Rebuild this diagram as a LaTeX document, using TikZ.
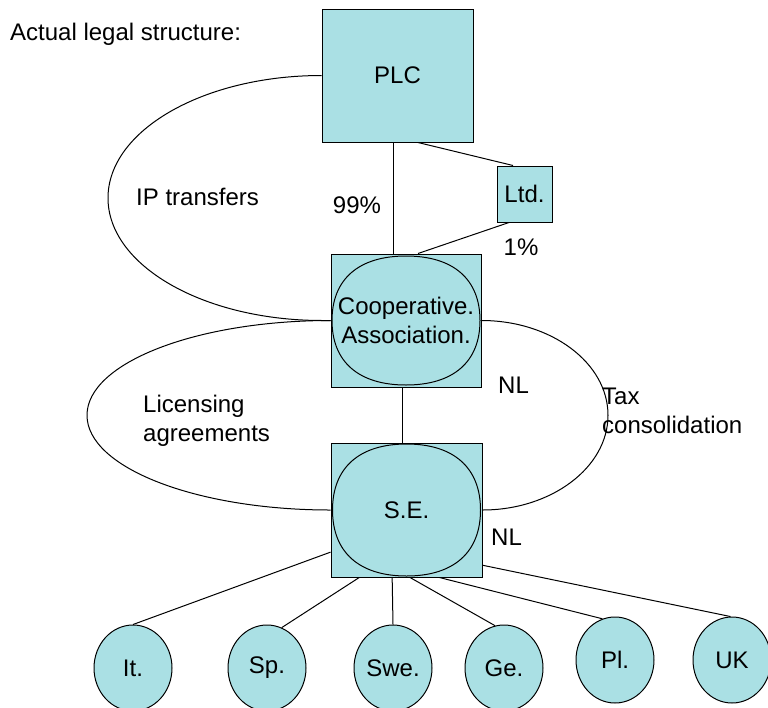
\documentclass[tikz,border=0pt]{standalone}
\usepackage{fontspec}
\setmainfont{Liberation Sans}
\usetikzlibrary{shapes.geometric,calc}
\definecolor{cellfill}{RGB}{170,224,228}
\begin{document}
\begin{tikzpicture}[x=1pt,y=-1pt,
  every node/.style={font=\fontsize{24}{29}\selectfont},
  entity/.style={draw, fill=cellfill, line width=1pt, inner sep=0pt},
  branch/.style={ellipse, draw, fill=cellfill, line width=1pt, inner sep=0pt,
                 minimum width=78pt, minimum height=86pt},
  link/.style={line width=1pt},
  txt/.style={inner sep=0pt}]
\useasboundingbox (0,0) rectangle (768,707);

% heading
\node[txt, anchor=base west] (title) at (10,40) {Actual legal structure:};

% entities
\node[entity, minimum width=151pt, minimum height=133pt] (plc) at (397.5,75.5) {PLC};
\node[entity, minimum width=55pt, minimum height=56pt] (ltd) at (524.5,194) {Ltd.};
\node[entity, minimum width=150pt, minimum height=133pt] (coop) at (406,320.5) {};
\node[entity, minimum width=151pt, minimum height=134pt] (se) at (406.5,510) {};

% national subsidiaries
\node[branch] (it)  at (133,668) {It.};
\node[branch] (sp)  at (267,668) {Sp.};
\node[branch] (swe) at (393,668) {Swe.};
\node[branch] (ge)  at (504,668) {Ge.};
\node[branch] (pl)  at (615,660) {Pl.};
\node[branch] (uk)  at (732,660) {UK};

% rounded outlines inside the Dutch entities
\draw[link] (480,320.5) .. controls (480,361.8) and (453.4,385) .. (406,385)
            .. controls (358.6,385) and (332,361.8) .. (332,320.5)
            .. controls (332,279.2) and (358.6,256) .. (406,256)
            .. controls (453.4,256) and (480,279.2) .. cycle;
\draw[link] (480.5,510) .. controls (480.5,552.2) and (453.9,576) .. (406.5,576)
            .. controls (359.1,576) and (332.5,552.2) .. (332.5,510)
            .. controls (332.5,467.8) and (359.1,444) .. (406.5,444)
            .. controls (453.9,444) and (480.5,467.8) .. cycle;
\node[txt, align=center] (cooptext) at (coop.center) {Cooperative.\\Association.};
\node[txt] (setext) at (se.center) {S.E.};

% ownership lines
\draw[link] ($(plc.south)+(-4.5,0)$) -- ($(coop.north)+(-13,0)$);
\draw[link] ($(plc.south)+(20.5,0)$) -- ($(ltd.north)+(-11.5,0)$);
\draw[link] ($(ltd.south)+(-15.5,0)$) -- ($(coop.north)+(12,0)$);
\draw[link] ($(coop.south)+(-4,0)$) -- ($(se.north)+(-4.5,0)$);

% SE to subsidiaries
\draw[link] (se.209.7) -- (it.north);
\draw[link] (se.235.2) -- (sp.70);
\draw[link] (se.258.6) -- (swe.north);
\draw[link] (se.273)   -- (ge.102);
\draw[link] (se.296.6) -- (pl.107);
\draw[link] (se.324.9) -- (uk.92);

% agreement loops
\draw[link] (plc.west) .. controls (203.8,75.5) and (108,130.3) .. (108,198)
            .. controls (108,265.7) and (203.8,320.5) .. (322,320.5) -- (coop.west);
\draw[link] (coop.west) .. controls (196.2,320.5) and (87,362.9) .. (87,415.25)
            .. controls (87,467.6) and (196.2,510) .. (se.west);
\draw[link] (coop.east) .. controls (551.1,320.5) and (608,362.9) .. (608,415.25)
            .. controls (608,467.6) and (551.1,510) .. (se.east);

% labels
\node[txt, anchor=base] (p99) at (357,213) {99\%};
\node[txt, anchor=base] (p1) at (521,255) {1\%};
\node[txt, anchor=base west] (ip) at (136,205) {IP transfers};
\node[txt, anchor=north west, align=left] (lic) at (143,395) {Licensing\\agreements};
\node[txt, anchor=north west, align=left] (tax) at (602,388) {Tax\\consolidation};
\node[txt, anchor=base west] (nl1) at (498,393) {NL};
\node[txt, anchor=base west] (nl2) at (491,545) {NL};
\end{tikzpicture}
\end{document}
